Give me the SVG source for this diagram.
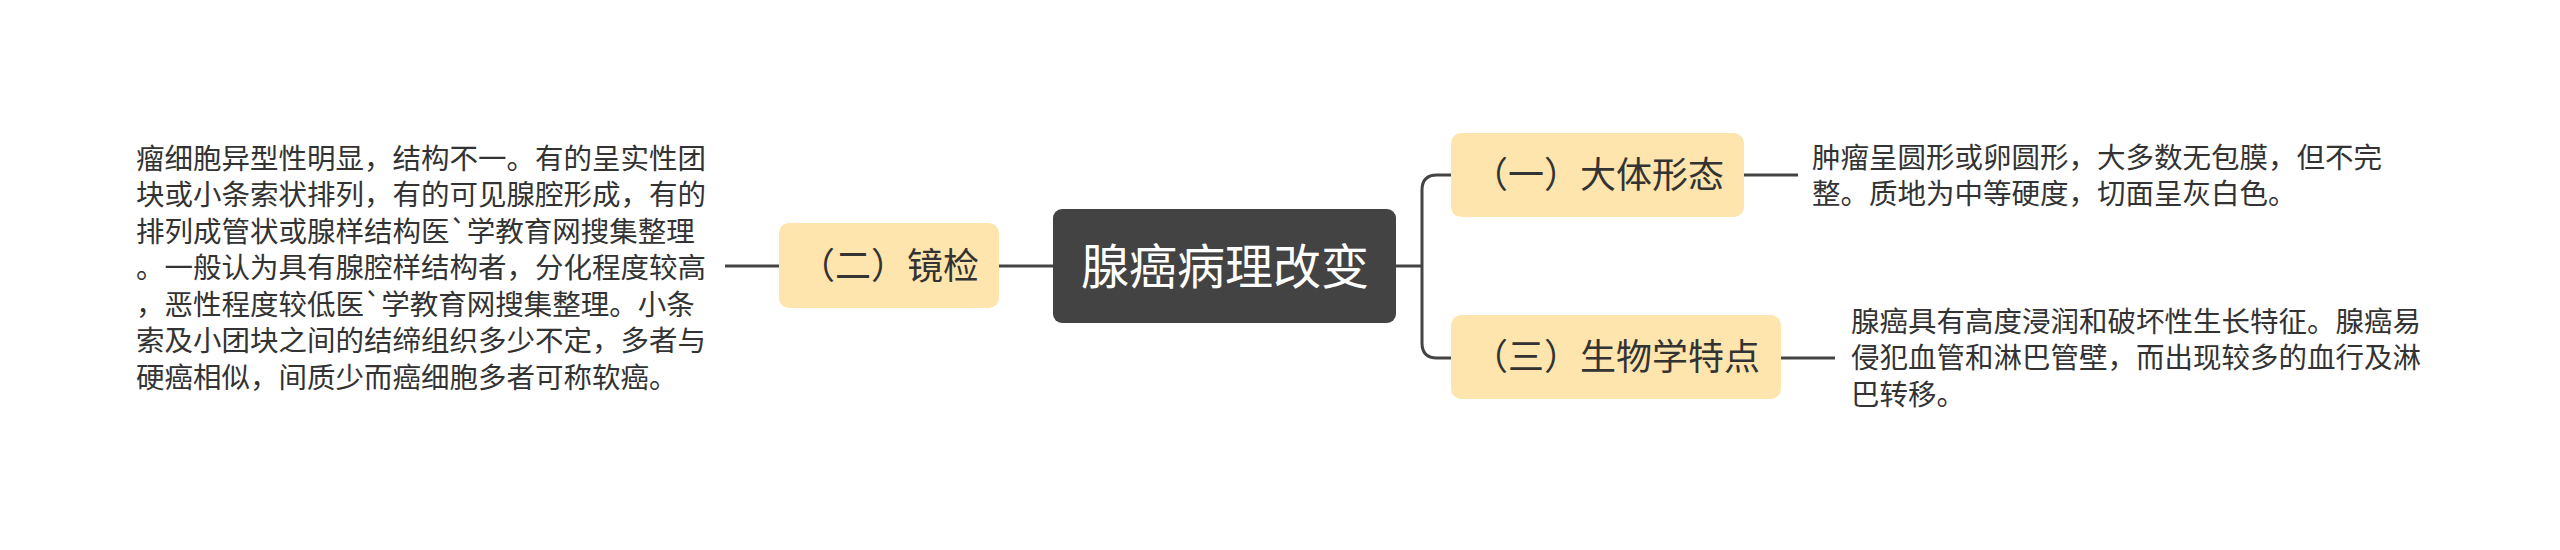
<svg xmlns="http://www.w3.org/2000/svg" width="2560" height="550" viewBox="0 0 2560 550">
<style>
.t{font-family:"Noto Sans CJK SC","Noto Sans",sans-serif;}
.root{fill:#434343;}
.rootT{fill:#ffffff;font-size:48px;}
.sub{fill:#FEE5AD;}
.subT{fill:#333333;font-size:36px;}
.det{fill:#333333;font-size:28.5px;}
.con{fill:none;stroke:#444444;stroke-width:3;}
</style>
<rect width="2560" height="550" fill="#ffffff"/>
<g id="connectors">
<path class="con" d="M1053,266 H999"/>
<path class="con" d="M779,266 H725"/>
<path class="con" d="M1396,266 H1422"/>
<path class="con" d="M1451,175 H1437 Q1422,175 1422,190 V343 Q1422,358 1437,358 H1451"/>
<path class="con" d="M1744,175 H1798"/>
<path class="con" d="M1781,358 H1835"/>
</g>
<g id="root">
<rect class="root" x="1053" y="209" width="343" height="114" rx="9"/>
<text class="t rootT" x="1225" y="284" text-anchor="middle">腺癌病理改变</text>
</g>
<g id="node-jingjian">
<rect class="sub" x="779" y="223" width="220" height="85" rx="10"/>
<text class="t subT" x="889" y="279" text-anchor="middle">（二）镜检</text>
</g>
<g id="node-dati">
<rect class="sub" x="1451" y="133" width="293" height="84" rx="10"/>
<text class="t subT" x="1598" y="188" text-anchor="middle">（一）大体形态</text>
</g>
<g id="node-shengwu">
<rect class="sub" x="1451" y="315" width="330" height="84" rx="10"/>
<text class="t subT" x="1616" y="370" text-anchor="middle">（三）生物学特点</text>
</g>
<g id="detail-jingjian">
<text class="t det" x="136" y="168.5">瘤细胞异型性明显，结构不一。有的呈实性团</text>
<text class="t det" x="136" y="205">块或小条索状排列，有的可见腺腔形成，有的</text>
<text class="t det" x="136" y="241.5">排列成管状或腺样结构医`学教育网搜集整理</text>
<text class="t det" x="136" y="278">。一般认为具有腺腔样结构者，分化程度较高</text>
<text class="t det" x="136" y="314.5">，恶性程度较低医`学教育网搜集整理。小条</text>
<text class="t det" x="136" y="351">索及小团块之间的结缔组织多少不定，多者与</text>
<text class="t det" x="136" y="387.5">硬癌相似，间质少而癌细胞多者可称软癌。</text>
</g>
<g id="detail-dati">
<text class="t det" x="1812" y="167.5">肿瘤呈圆形或卵圆形，大多数无包膜，但不完</text>
<text class="t det" x="1812" y="204">整。质地为中等硬度，切面呈灰白色。</text>
</g>
<g id="detail-shengwu">
<text class="t det" x="1851" y="331.5">腺癌具有高度浸润和破坏性生长特征。腺癌易</text>
<text class="t det" x="1851" y="368">侵犯血管和淋巴管壁，而出现较多的血行及淋</text>
<text class="t det" x="1851" y="404.5">巴转移。</text>
</g>
</svg>
